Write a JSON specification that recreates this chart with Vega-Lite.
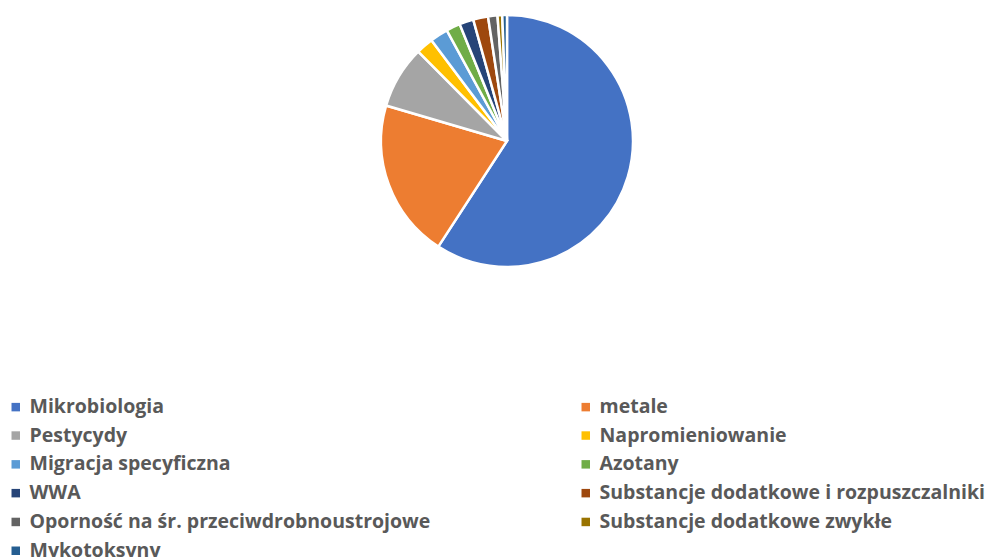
{
  "$schema": "https://vega.github.io/schema/vega-lite/v6.json",
  "width": 974,
  "height": 282,
  "padding": {"left": 20, "top": 0, "right": 0, "bottom": 275},
  "autosize": {"type": "none"},
  "background": "white",
  "data": {
    "values": [
      {"kategoria": "Mikrobiologia", "udzial": 59.0, "kolejnosc": 1},
      {"kategoria": "metale", "udzial": 20.3, "kolejnosc": 2},
      {"kategoria": "Pestycydy", "udzial": 8.0, "kolejnosc": 3},
      {"kategoria": "Napromieniowanie", "udzial": 2.2, "kolejnosc": 4},
      {"kategoria": "Migracja specyficzna", "udzial": 2.3, "kolejnosc": 5},
      {"kategoria": "Azotany", "udzial": 1.8, "kolejnosc": 6},
      {"kategoria": "WWA", "udzial": 1.8, "kolejnosc": 7},
      {"kategoria": "Substancje dodatkowe i rozpuszczalniki", "udzial": 1.9, "kolejnosc": 8},
      {"kategoria": "Oporność na śr. przeciwdrobnoustrojowe", "udzial": 1.2, "kolejnosc": 9},
      {"kategoria": "Substancje dodatkowe zwykłe", "udzial": 0.6, "kolejnosc": 10},
      {"kategoria": "Mykotoksyny", "udzial": 0.6, "kolejnosc": 11}
    ]
  },
  "mark": {"type": "arc", "outerRadius": 126, "stroke": "white", "strokeWidth": 2.5},
  "encoding": {
    "theta": {"field": "udzial", "type": "quantitative", "stack": true},
    "order": {"field": "kolejnosc", "type": "quantitative"},
    "color": {
      "field": "kategoria",
      "type": "nominal",
      "scale": {
        "domain": ["Mikrobiologia", "metale", "Pestycydy", "Napromieniowanie", "Migracja specyficzna", "Azotany", "WWA", "Substancje dodatkowe i rozpuszczalniki", "Oporność na śr. przeciwdrobnoustrojowe", "Substancje dodatkowe zwykłe", "Mykotoksyny"],
        "range": ["#4472C4", "#ED7D31", "#A5A5A5", "#FFC000", "#5B9BD5", "#70AD47", "#264478", "#9E480E", "#636363", "#997300", "#255E91"]
      },
      "legend": {
        "title": null,
        "orient": "none",
        "direction": "horizontal",
        "legendX": -14,
        "legendY": 397,
        "columns": 2,
        "columnPadding": 145,
        "rowPadding": 7.8,
        "padding": 0,
        "symbolType": "square",
        "symbolSize": 72,
        "symbolStrokeWidth": 0,
        "labelFont": "Open Sans",
        "labelFontWeight": "bold",
        "labelFontSize": 19.5,
        "labelColor": "#595959",
        "labelOffset": 4,
        "labelLimit": 600
      }
    }
  },
  "config": {"view": {"stroke": null}}
}
